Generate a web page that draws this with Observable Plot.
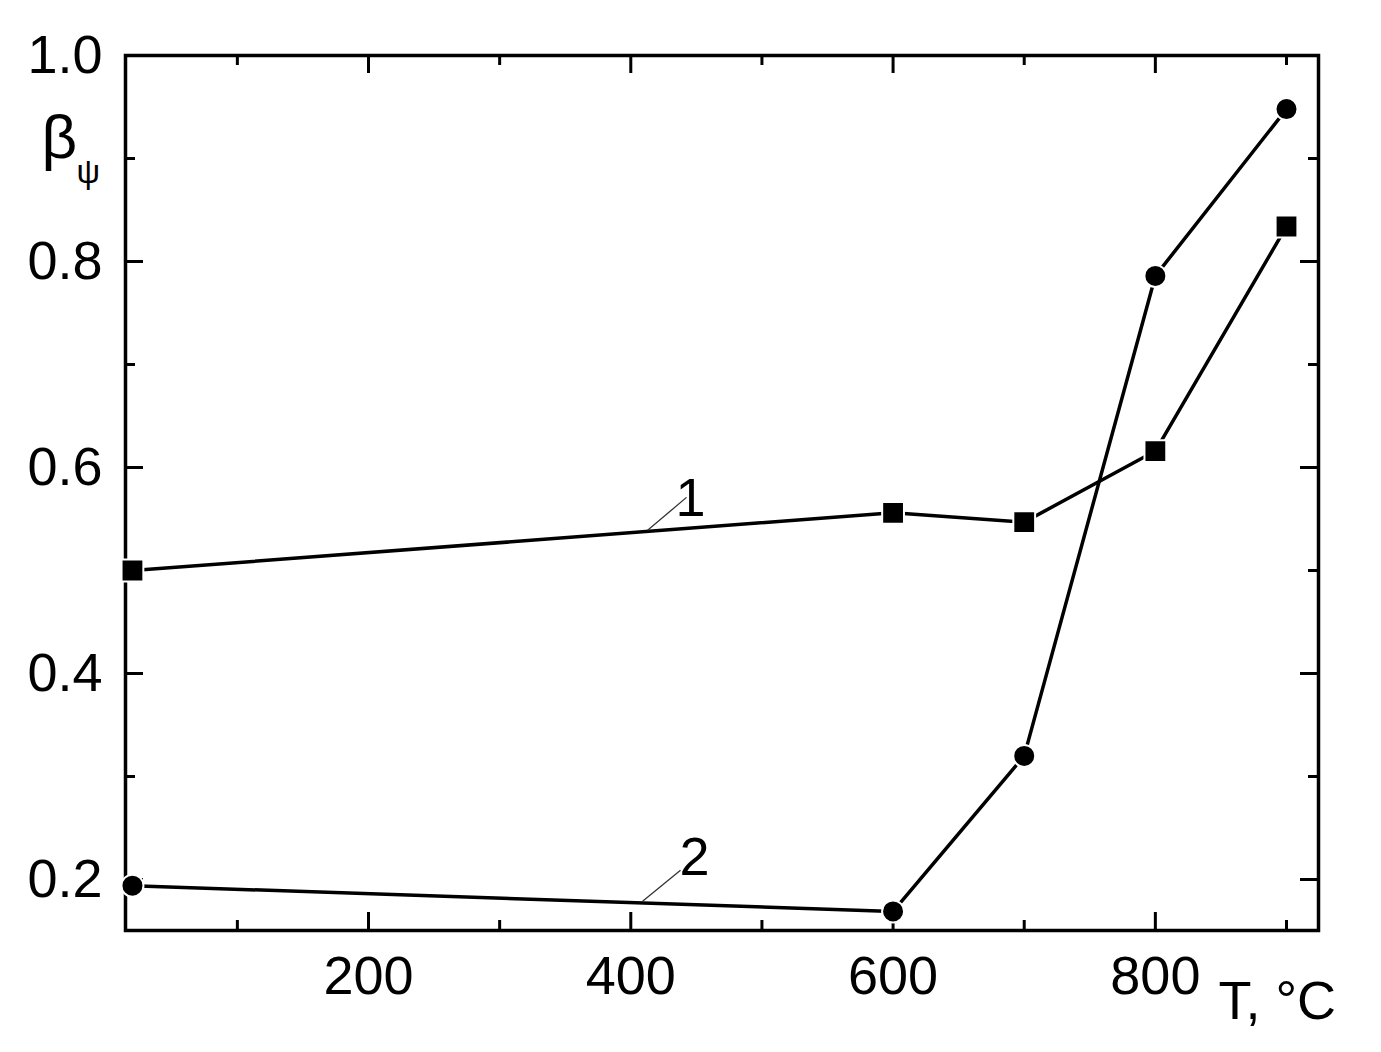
<!DOCTYPE html>
<html>
<head>
<meta charset="utf-8">
<script src="https://cdn.jsdelivr.net/npm/d3@7"></script>
<script src="https://cdn.jsdelivr.net/npm/@observablehq/plot@0.6"></script>
<style>
  html, body { margin: 0; padding: 0; background: #fff; }
  #chart svg { display: block; }
</style>
</head>
<body>
<div id="chart"></div>
<script>
// ---- data ----
const temperature = [20, 600, 700, 800, 900];          // T, °C
const beta1 = [0.500, 0.556, 0.547, 0.616, 0.834];      // curve 1 (squares)
const beta2 = [0.194, 0.169, 0.320, 0.786, 0.948];      // curve 2 (circles)

const xMajorTicks = [200, 400, 600, 800];
const xMinorTicks = [100, 300, 500, 700, 900];
const yMajorTicks = [0.2, 0.4, 0.6, 0.8, 1.0];
const yMinorTicks = [0.3, 0.5, 0.7, 0.9];

const curveLabels = [
  {text: "1", T: 445.6, beta: 0.553},
  {text: "2", T: 448.6, beta: 0.204}
];
const leaderLines = [
  {T1: 412.8, b1: 0.539, T2: 442.5, b2: 0.571},
  {T1: 409.0, b1: 0.179, T2: 437.9, b2: 0.209}
];

const xLabel = "T, °C";
const yLabelMain = "β";
const yLabelSub = "ψ";

// ---- layout ----
const W = 1381, H = 1052;
const mL = 125, mR = 63, mT = 55, mB = 122;
const plotW = W - mL - mR, plotH = H - mT - mB;
const FONT = "'Liberation Sans', Arial, Helvetica, sans-serif";
const FS = 54;

const rows1 = temperature.map((t, i) => ({T: t, beta: beta1[i]}));
const rows2 = temperature.map((t, i) => ({T: t, beta: beta2[i]}));

const majorLen = 18, minorLen = 10;

const chart = Plot.plot({
  width: W,
  height: H,
  marginLeft: mL,
  marginRight: mR,
  marginTop: mT,
  marginBottom: mB,
  style: {fontFamily: FONT, fontSize: FS + "px", background: "#fff", color: "#000"},
  x: {domain: [14.7, 924.4]},
  y: {domain: [0.1505, 1.0]},
  marks: [
    // tick labels
    Plot.axisX({ticks: xMajorTicks, tickSize: 0, tickPadding: 25, fontSize: FS, label: null, tickFormat: d => String(d)}),
    Plot.axisY({ticks: yMajorTicks, tickSize: 0, tickPadding: 23, fontSize: FS, label: null, tickFormat: d3.format(".1f")}),
    // inward ticks: bottom & top
    Plot.tickX(xMajorTicks, {x: d => d, insetTop: plotH - majorLen, stroke: "#000", strokeWidth: 3}),
    Plot.tickX(xMinorTicks, {x: d => d, insetTop: plotH - minorLen, stroke: "#000", strokeWidth: 3}),
    Plot.tickX(xMajorTicks, {x: d => d, insetBottom: plotH - majorLen, stroke: "#000", strokeWidth: 3}),
    Plot.tickX(xMinorTicks, {x: d => d, insetBottom: plotH - minorLen, stroke: "#000", strokeWidth: 3}),
    // inward ticks: left & right
    Plot.tickY(yMajorTicks, {y: d => d, insetRight: plotW - majorLen, stroke: "#000", strokeWidth: 3}),
    Plot.tickY(yMinorTicks, {y: d => d, insetRight: plotW - minorLen, stroke: "#000", strokeWidth: 3}),
    Plot.tickY(yMajorTicks, {y: d => d, insetLeft: plotW - majorLen, stroke: "#000", strokeWidth: 3}),
    Plot.tickY(yMinorTicks, {y: d => d, insetLeft: plotW - minorLen, stroke: "#000", strokeWidth: 3}),
    Plot.frame({stroke: "#000", strokeWidth: 3.5}),
    // curves
    Plot.line(rows1, {x: "T", y: "beta", stroke: "#000", strokeWidth: 3.5}),
    Plot.line(rows2, {x: "T", y: "beta", stroke: "#000", strokeWidth: 3.5}),
    Plot.dot(rows1, {x: "T", y: "beta", symbol: "square", r: 12.3, fill: "#000", stroke: "#fff", strokeWidth: 2}),
    Plot.dot(rows2, {x: "T", y: "beta", symbol: "circle", r: 11, fill: "#000", stroke: "#fff", strokeWidth: 2}),
    // curve annotations
    Plot.link(leaderLines, {x1: "T1", y1: "b1", x2: "T2", y2: "b2", stroke: "#333", strokeWidth: 1.3}),
    Plot.text(curveLabels, {x: "T", y: "beta", text: "text", fontSize: FS, lineAnchor: "bottom", textAnchor: "middle", fill: "#000"}),
    // axis titles
    Plot.text([xLabel], {frameAnchor: "bottom-right", dx: -100, dy: 88, textAnchor: "start", lineAnchor: "bottom", fontSize: FS, fill: "#000"}),
    Plot.text([yLabelMain], {frameAnchor: "top-left", dx: -84, dy: 102, textAnchor: "start", lineAnchor: "bottom", fontSize: 62, fill: "#000"}),
    Plot.text([yLabelSub], {frameAnchor: "top-left", dx: -49, dy: 127, textAnchor: "start", lineAnchor: "bottom", fontSize: 33, fill: "#000"})
  ]
});

document.getElementById("chart").appendChild(chart);
</script>
</body>
</html>
